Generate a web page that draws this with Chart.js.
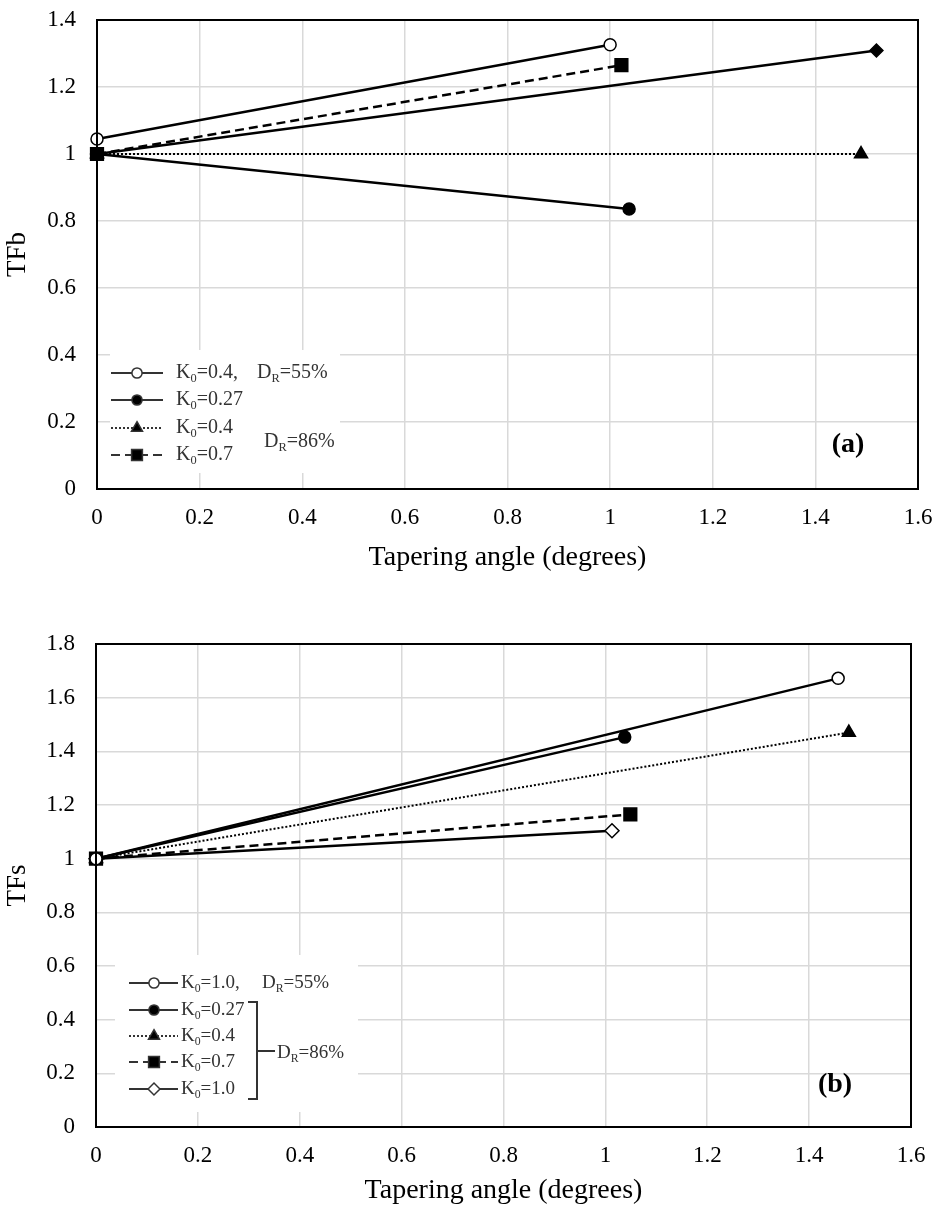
<!DOCTYPE html>
<html>
<head>
<meta charset="utf-8">
<script src="https://cdn.jsdelivr.net/npm/chart.js@4.4.0/dist/chart.umd.min.js"></script>
<style>
html, body { margin: 0; padding: 0; background: #fff; }
#wrapA { position: absolute; left: 0; top: 0; width: 937px; height: 600px; }
#wrapB { position: absolute; left: 0; top: 600px; width: 937px; height: 610px; }
</style>
</head>
<body>
<div id="wrapA"><canvas id="chartA"></canvas></div>
<div id="wrapB"><canvas id="chartB"></canvas></div>
<script>
// tick labels
const xTicks = ['0', '0.2', '0.4', '0.6', '0.8', '1', '1.2', '1.4', '1.6'];
const yTicksA = ['0', '0.2', '0.4', '0.6', '0.8', '1', '1.2', '1.4'];
const yTicksB = ['0', '0.2', '0.4', '0.6', '0.8', '1', '1.2', '1.4', '1.6', '1.8'];

// (a) TFb vs tapering angle
const aK04dr55X = [0, 1.0],   aK04dr55Y = [1.045, 1.326];
const aK027X    = [0, 1.037], aK027Y    = [1, 0.836];
const aK04X     = [0, 1.489], aK04Y     = [1, 1.0];
const aK07X     = [0, 1.022], aK07Y     = [1, 1.265];
const aK10X     = [0, 1.519], aK10Y     = [1, 1.309];

// (b) TFs vs tapering angle
const bK10dr55X = [0, 1.457], bK10dr55Y = [1, 1.672];
const bK027X    = [0, 1.038], bK027Y    = [1, 1.453];
const bK04X     = [0, 1.478], bK04Y     = [1, 1.47];
const bK07X     = [0, 1.049], bK07Y     = [1, 1.165];
const bK10X     = [0, 1.013], bK10Y     = [1, 1.104];

const serif = '"Liberation Serif", "Times New Roman", serif';

// marker / line styles
const openCircle = { pointStyle: 'circle', pointRadius: 6, pointBackgroundColor: '#fff', borderDash: [] };
const fullCircle = { pointStyle: 'circle', pointRadius: 6, pointBackgroundColor: '#000', borderDash: [] };
const triangle   = { pointStyle: 'triangle', pointRadius: 7.5, pointBackgroundColor: '#000', borderDash: [2, 2], borderWidth: 2 };
const square     = { pointStyle: 'rect', pointRadius: 9, pointBackgroundColor: '#000', borderDash: [9, 5] };
const fullDiam   = { pointStyle: 'rectRot', pointRadius: 6.5, pointBackgroundColor: '#000', borderDash: [] };
const openDiam   = { pointStyle: 'rectRot', pointRadius: 7, pointBackgroundColor: '#fff', borderDash: [] };

function series(xs, ys, style) {
    return Object.assign({
        data: xs.map((x, i) => ({ x: x, y: ys[i] })),
        showLine: true,
        borderColor: '#000',
        borderWidth: 2.5,
        pointBorderColor: '#000',
        pointBorderWidth: 1.5,
        pointHoverRadius: 6,
        clip: false,
        tension: 0
    }, style);
}

// text with subscripts, e.g. K0 / DR
function richText(ctx, parts, x, y, size, color) {
    ctx.fillStyle = color;
    ctx.textBaseline = 'middle';
    ctx.textAlign = 'left';
    parts.forEach(p => {
        const s = p.sub ? size * 0.62 : size;
        ctx.font = s + 'px ' + serif;
        ctx.fillText(p.t, x, p.sub ? y + size * 0.3 : y);
        x += ctx.measureText(p.t).width;
    });
    return x;
}
const K = v => [{ t: 'K' }, { t: '0', sub: true }, { t: '=' + v }];
const DR = v => [{ t: 'D' }, { t: 'R', sub: true }, { t: '=' + v }];

const legendBox = {
    id: 'legendBox',
    beforeDatasetsDraw(chart, args, o) {
        const ctx = chart.ctx;
        ctx.save();
        ctx.fillStyle = '#fff';
        ctx.fillRect(o.box[0], o.box[1], o.box[2], o.box[3]);
        o.rows.forEach(r => {
            const ds = chart.data.datasets[r.ds];
            ctx.strokeStyle = o.color;
            ctx.lineWidth = 2;
            ctx.setLineDash(ds.borderDash || []);
            ctx.beginPath();
            ctx.moveTo(o.x1, r.y);
            ctx.lineTo(o.x2, r.y);
            ctx.stroke();
            ctx.setLineDash([]);
            ctx.fillStyle = ds.pointBackgroundColor;
            ctx.lineWidth = 1.5;
            Chart.helpers.drawPoint(ctx, { pointStyle: ds.pointStyle, radius: ds.pointRadius * 0.85, rotation: 0, borderWidth: 1.5 }, o.mx, r.y);
            richText(ctx, r.parts, o.tx, r.y, o.size, o.color);
        });
        (o.extra || []).forEach(e => richText(ctx, e.parts, e.x, e.y, o.size, o.color));
        if (o.bracket) {
            const b = o.bracket;
            ctx.strokeStyle = o.color;
            ctx.lineWidth = 2;
            ctx.beginPath();
            ctx.moveTo(b.x - 9, b.y1); ctx.lineTo(b.x, b.y1); ctx.lineTo(b.x, b.y2); ctx.lineTo(b.x - 9, b.y2);
            ctx.moveTo(b.x, b.ym); ctx.lineTo(b.x + 18, b.ym);
            ctx.stroke();
        }
        ctx.restore();
    }
};

const frame = {
    id: 'frame',
    afterDatasetsDraw(chart, args, o) {
        const { ctx, chartArea: a } = chart;
        ctx.save();
        ctx.strokeStyle = '#000';
        ctx.lineWidth = 2;
        ctx.strokeRect(a.left, a.top, a.right - a.left, a.bottom - a.top);
        ctx.font = 'bold 28px ' + serif;
        ctx.fillStyle = '#000';
        ctx.textAlign = 'center';
        ctx.textBaseline = 'middle';
        ctx.fillText(o.tag, o.tagX, o.tagY);
        ctx.restore();
    }
};

// label overflow padding is handled by layout.padding instead
function noPad(s) {
    s.paddingTop = 0; s.paddingBottom = 0; s.paddingLeft = 0; s.paddingRight = 0;
}

function scaleOpts(yMax, yLabels, yTitle, xHeight, xTitlePad, yWidth) {
    return {
        x: {
            type: 'linear', min: 0, max: 1.6,
            ticks: { stepSize: 0.2, padding: 15, color: '#000', maxRotation: 0, autoSkip: false,
                     font: { family: serif, size: 23 }, callback: (v, i) => xTicks[i] },
            grid: { color: '#d9d9d9', lineWidth: 1.5, drawTicks: false },
            border: { color: '#000', width: 2 },
            title: { display: true, text: 'Tapering angle (degrees)', color: '#000',
                     font: { family: serif, size: 28 }, padding: { top: 0, bottom: xTitlePad } },
            afterFit: s => { s.height = xHeight; noPad(s); }
        },
        y: {
            min: 0, max: yMax,
            ticks: { stepSize: 0.2, padding: 21, color: '#000', autoSkip: false,
                     font: { family: serif, size: 23 }, callback: (v, i) => yLabels[i] },
            grid: { color: '#d9d9d9', lineWidth: 1.5, drawTicks: false },
            border: { color: '#000', width: 2 },
            title: { display: true, text: yTitle, color: '#000',
                     font: { family: serif, size: 27 }, padding: { top: 2, bottom: 0 } },
            afterFit: s => { s.width = yWidth; noPad(s); }
        }
    };
}

new Chart(document.getElementById('chartA'), {
    type: 'scatter',
    data: {
        datasets: [
            series(aK04dr55X, aK04dr55Y, openCircle),
            series(aK027X, aK027Y, fullCircle),
            series(aK04X, aK04Y, triangle),
            series(aK07X, aK07Y, square),
            series(aK10X, aK10Y, fullDiam)
        ]
    },
    options: {
        responsive: true,
        maintainAspectRatio: false,
        animation: false,
        layout: { padding: { top: 20, right: 19, left: 0, bottom: 0 } },
        scales: scaleOpts(1.4, yTicksA, 'TFb', 111, 26, 97),
        plugins: {
            legend: { display: false },
            tooltip: { enabled: false },
            legendBox: {
                box: [110, 350, 230, 123], x1: 111, x2: 163, mx: 137, tx: 176, size: 20, color: '#333',
                rows: [
                    { ds: 0, y: 373, parts: K('0.4,') },
                    { ds: 1, y: 400, parts: K('0.27') },
                    { ds: 2, y: 428, parts: K('0.4') },
                    { ds: 3, y: 455, parts: K('0.7') }
                ],
                extra: [
                    { x: 257, y: 373, parts: DR('55%') },
                    { x: 264, y: 442, parts: DR('86%') }
                ]
            },
            frame: { tag: '(a)', tagX: 848, tagY: 445 }
        }
    },
    plugins: [legendBox, frame]
});

new Chart(document.getElementById('chartB'), {
    type: 'scatter',
    data: {
        datasets: [
            series(bK10dr55X, bK10dr55Y, openCircle),
            series(bK027X, bK027Y, fullCircle),
            series(bK04X, bK04Y, triangle),
            series(bK07X, bK07Y, square),
            series(bK10X, bK10Y, openDiam)
        ]
    },
    options: {
        responsive: true,
        maintainAspectRatio: false,
        animation: false,
        layout: { padding: { top: 44, right: 26, left: 0, bottom: 0 } },
        scales: scaleOpts(1.8, yTicksB, 'TFs', 83, 3, 96),
        plugins: {
            legend: { display: false },
            tooltip: { enabled: false },
            legendBox: {
                box: [115, 355, 243, 157], x1: 129, x2: 178, mx: 154, tx: 181, size: 19, color: '#333',
                rows: [
                    { ds: 0, y: 383, parts: K('1.0,') },
                    { ds: 1, y: 410, parts: K('0.27') },
                    { ds: 2, y: 436, parts: K('0.4') },
                    { ds: 3, y: 462, parts: K('0.7') },
                    { ds: 4, y: 489, parts: K('1.0') }
                ],
                extra: [
                    { x: 262, y: 383, parts: DR('55%') },
                    { x: 277, y: 453, parts: DR('86%') }
                ],
                bracket: { x: 257, y1: 402, y2: 499, ym: 451 }
            },
            frame: { tag: '(b)', tagX: 835, tagY: 485 }
        }
    },
    plugins: [legendBox, frame]
});
</script>
</body>
</html>
